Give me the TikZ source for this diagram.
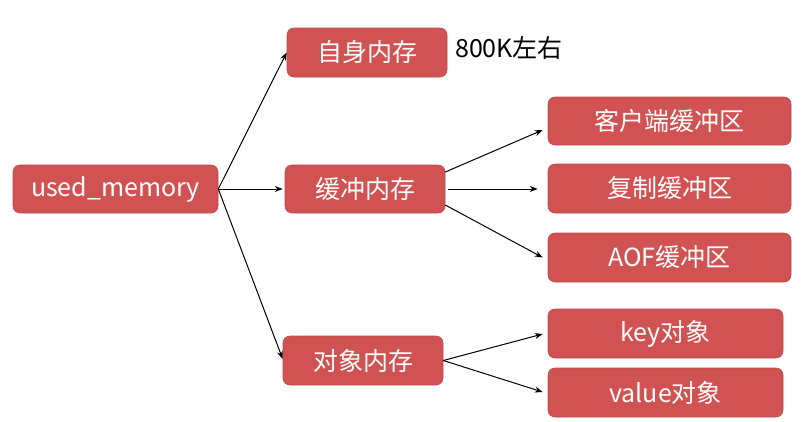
\documentclass[tikz,border=0pt]{standalone}
\usepackage{fontspec}
\setmainfont{Noto Sans CJK SC}
\usetikzlibrary{arrows.meta,calc}
\definecolor{boxred}{RGB}{208,82,82}
\begin{document}
\begin{tikzpicture}[x=1pt,y=-1pt,
  box/.style={rectangle,rounded corners=7pt,fill=boxred,draw=boxred!90!black,line width=0.6pt,
    text=white,font=\fontsize{25}{28}\selectfont,inner sep=0pt,anchor=center},
  arr/.style={-{Stealth[length=8pt,width=6pt]},line width=1pt,black}]
\useasboundingbox (0,0) rectangle (801,421);
\node[box,minimum width=205pt,minimum height=48pt] (um) at (115.5,189) {used\_memory};
\node[box,minimum width=160pt,minimum height=49pt] (self) at (367,52.5) {自身内存};
\node[box,minimum width=160pt,minimum height=48pt] (buf) at (365,189) {缓冲内存};
\node[box,minimum width=160pt,minimum height=49pt] (obj) at (363,360.5) {对象内存};
\node[box,minimum width=243pt,minimum height=48pt] (cli) at (669.5,121) {客户端缓冲区};
\node[box,minimum width=243pt,minimum height=49pt] (rep) at (669.5,188.5) {复制缓冲区};
\node[box,minimum width=243pt,minimum height=49pt] (aof) at (669.5,257.5) {AOF缓冲区};
\node[box,minimum width=235pt,minimum height=49pt] (key) at (665.5,333.5) {key对象};
\node[box,minimum width=235pt,minimum height=49pt] (val) at (665.5,392.5) {value对象};
\node[anchor=west,inner sep=0pt,font=\fontsize{25}{28}\selectfont] (note) at (455,48) {800K左右};
\draw[arr] (um.east) -- (self.west);
\draw[arr] (um.east) -- ($(buf.west)+(-2,0)$);
\draw[arr] (um.east) -- ($(obj.west)+(0,-1.5)$);
\draw[arr] ($(buf.east)+(0,-17)$) -- ($(cli.west)+(-5,9)$);
\draw[arr] ($(buf.east)+(3,0)$) -- ($(rep.west)+(-10,0.5)$);
\draw[arr] ($(buf.east)+(0,16)$) -- ($(aof.west)+(-5,0)$);
\draw[arr] (obj.east) -- ($(key.west)+(-5,0.5)$);
\draw[arr] (obj.east) -- ($(val.west)+(-5,-0.5)$);
\end{tikzpicture}
\end{document}
